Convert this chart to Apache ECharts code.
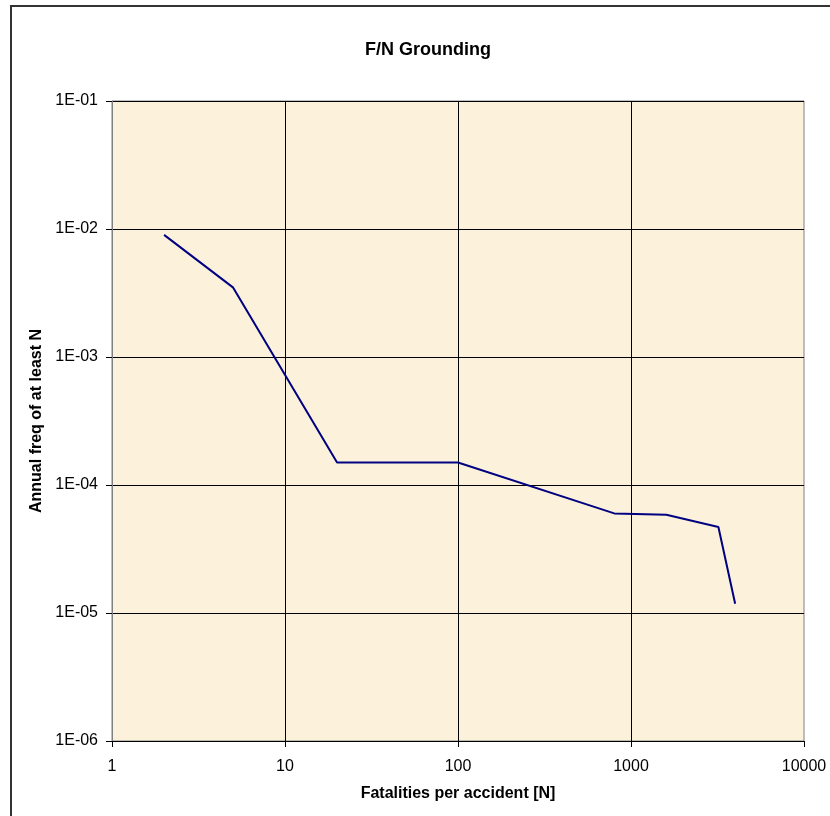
<!DOCTYPE html>
<html>
<head>
<meta charset="utf-8">
<script src="https://cdn.jsdelivr.net/npm/echarts@6/dist/echarts.min.js"></script>
<style>
html,body{margin:0;padding:0;background:#fff;}
#chart{width:830px;height:816px;}
</style>
</head>
<body>
<div id="chart"></div>
<script>
// Data
const fatalities = [2, 5, 20, 100, 800, 1600, 3200, 4000];
const annualFreq = [9.0e-3, 3.5e-3, 1.5e-4, 1.5e-4, 6.0e-5, 5.85e-5, 4.7e-5, 1.18e-5];
const xTickLabels = ['1', '10', '100', '1000', '10000'];
const yTickLabels = ['1E-06', '1E-05', '1E-04', '1E-03', '1E-02', '1E-01'];

const FONT = '"Liberation Sans", Arial, sans-serif';
const chart = echarts.init(document.getElementById('chart'), null, {renderer: 'canvas'});

function yLabel(v) {
  const e = Math.round(Math.log10(v));
  return yTickLabels[e + 6];
}
function xLabel(v) {
  const e = Math.round(Math.log10(v));
  return xTickLabels[e];
}

chart.setOption({
  animation: false,
  backgroundColor: '#ffffff',
  title: {
    text: 'F/N Grounding',
    left: 423,
    top: 36,
    textAlign: 'center',
    textStyle: {fontFamily: FONT, fontSize: 18, fontWeight: 'bold', color: '#000'}
  },
  graphic: [{
    type: 'rect',
    shape: {x: 11, y: 6, width: 900, height: 900},
    style: {fill: 'none', stroke: '#333333', lineWidth: 2},
    silent: true,
    z: 100
  }],
  grid: {
    left: 112, top: 101, width: 692, height: 640,
    show: true,
    backgroundColor: '#fcf2dc',
    borderColor: '#808080',
    borderWidth: 1
  },
  xAxis: {
    type: 'log',
    logBase: 10,
    min: 1,
    max: 10000,
    name: 'Fatalities per accident [N]',
    nameLocation: 'middle',
    nameGap: 45,
    nameTextStyle: {fontFamily: FONT, fontSize: 16, fontWeight: 'bold', color: '#000'},
    axisLine: {show: true, lineStyle: {color: '#000', width: 1}},
    axisTick: {show: true, inside: false, length: 6, lineStyle: {color: '#000'}},
    axisLabel: {fontFamily: FONT, fontSize: 16, color: '#000', margin: 18, formatter: xLabel},
    splitLine: {show: true, showMinLine: false, showMaxLine: false, lineStyle: {color: '#000', width: 1}},
    minorTick: {show: false},
    minorSplitLine: {show: false}
  },
  yAxis: {
    type: 'log',
    logBase: 10,
    min: 1e-6,
    max: 1e-1,
    name: 'Annual freq of at least N',
    nameLocation: 'middle',
    nameGap: 66,
    nameTextStyle: {fontFamily: FONT, fontSize: 16, fontWeight: 'bold', color: '#000'},
    axisLine: {show: true, lineStyle: {color: '#808080', width: 1}},
    axisTick: {show: true, inside: false, length: 6, lineStyle: {color: '#000'}},
    axisLabel: {fontFamily: FONT, fontSize: 16, color: '#000', margin: 14, formatter: yLabel},
    splitLine: {show: true, showMinLine: false, showMaxLine: false, lineStyle: {color: '#000', width: 1}}
  },
  series: [{
    type: 'line',
    data: fatalities.map((f, i) => [f, annualFreq[i]]),
    showSymbol: false,
    symbol: 'none',
    lineStyle: {color: '#000080', width: 2},
    itemStyle: {color: '#000080'}
  }]
});
</script>
</body>
</html>
